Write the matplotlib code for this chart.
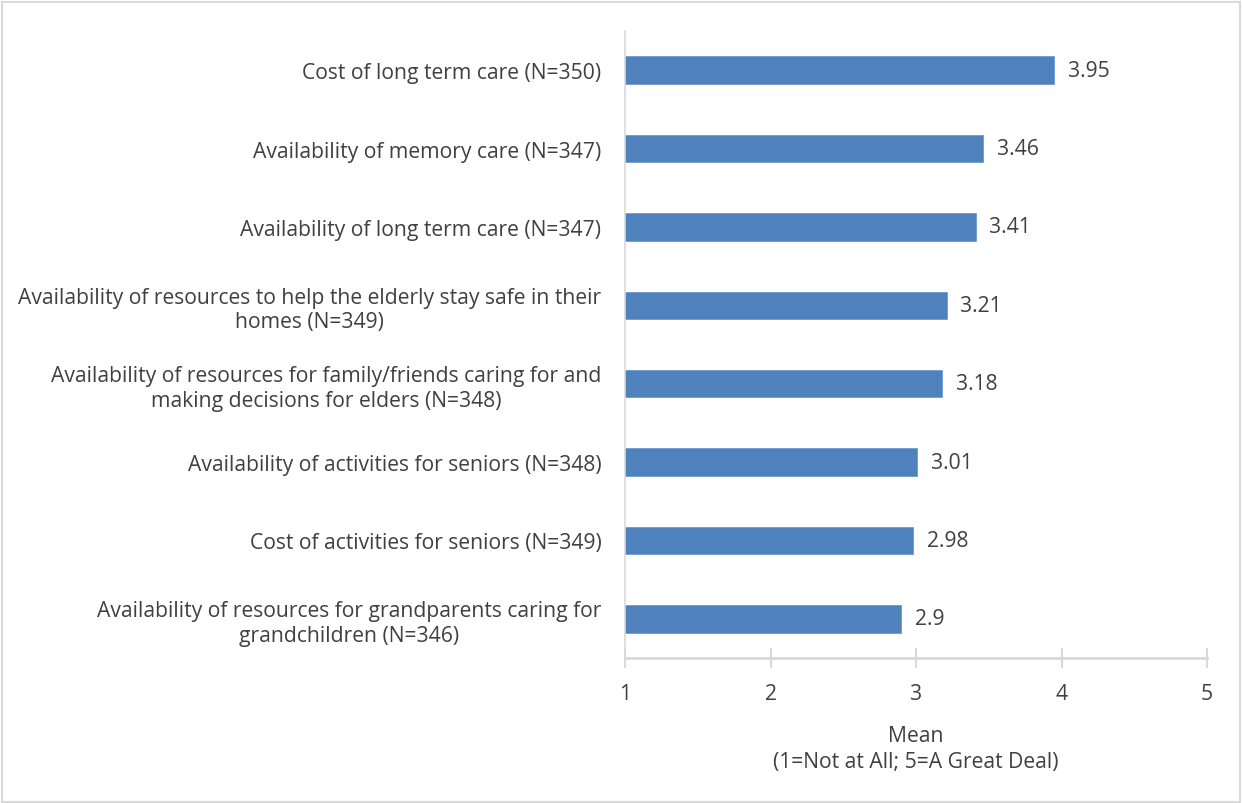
import numpy as np
import matplotlib.pyplot as plt
from matplotlib.patches import Rectangle

plt.rcParams['font.family'] = ['Open Sans', 'DejaVu Sans']

categorias = [
    "Cost of long term care (N=350)",
    "Availability of memory care (N=347)",
    "Availability of long term care (N=347)",
    "Availability of resources to help the elderly stay safe in their\nhomes (N=349)",
    "Availability of resources for family/friends caring for and\nmaking decisions for elders (N=348)",
    "Availability of activities for seniors (N=348)",
    "Cost of activities for seniors (N=349)",
    "Availability of resources for grandparents caring for\ngrandchildren (N=346)",
]
medias = [3.95, 3.46, 3.41, 3.21, 3.18, 3.01, 2.98, 2.9]
rotulos = ["3.95", "3.46", "3.41", "3.21", "3.18", "3.01", "2.98", "2.9"]
ticks_x = [1, 2, 3, 4, 5]

cor_barra = '#4F81BD'
cor_texto = '#404040'
cor_linha = '#D9D9D9'
fs = 15.2

fig = plt.figure(figsize=(12.42, 8.04), dpi=100)
ax = fig.add_axes([625/1242, 1 - 659/804, (1207-625)/1242, (659-32)/804])

y = np.arange(len(categorias))[::-1]
ax.barh(y, medias, height=0.35, color=cor_barra, edgecolor='#6F9AD0', linewidth=0.6)

for yi, v, r in zip(y, medias, rotulos):
    ax.text(v + 0.095, yi, r, va='center', ha='left', fontsize=fs, color=cor_texto)

ax.set_xlim(1, 5)
ax.set_ylim(-0.5, len(categorias) - 0.5)
ax.set_xticks(ticks_x)
ax.set_xticklabels([str(t) for t in ticks_x], fontsize=fs, color=cor_texto)
ax.set_yticks(y)
ax.set_yticklabels(categorias, fontsize=fs, color=cor_texto, multialignment='center',
                   linespacing=1.22)
ax.tick_params(axis='y', length=0, pad=17)
ax.tick_params(axis='x', direction='inout', length=14, width=1.5, color=cor_linha, pad=11)

for lado in ['top', 'right']:
    ax.spines[lado].set_visible(False)
ax.spines['left'].set_color(cor_linha)
ax.spines['left'].set_linewidth(1.2)
ax.spines['bottom'].set_color(cor_linha)
ax.spines['bottom'].set_linewidth(2)

ax.set_xlabel("Mean\n(1=Not at All; 5=A Great Deal)", fontsize=fs, color=cor_texto,
              labelpad=15, linespacing=1.33)

# borda da figura
fig.patches.append(Rectangle((2/1242, 1/804), 1238/1242, 800/804, transform=fig.transFigure,
                             fill=False, edgecolor=cor_linha, linewidth=1.5))

fig.savefig('out.png', dpi=100)
